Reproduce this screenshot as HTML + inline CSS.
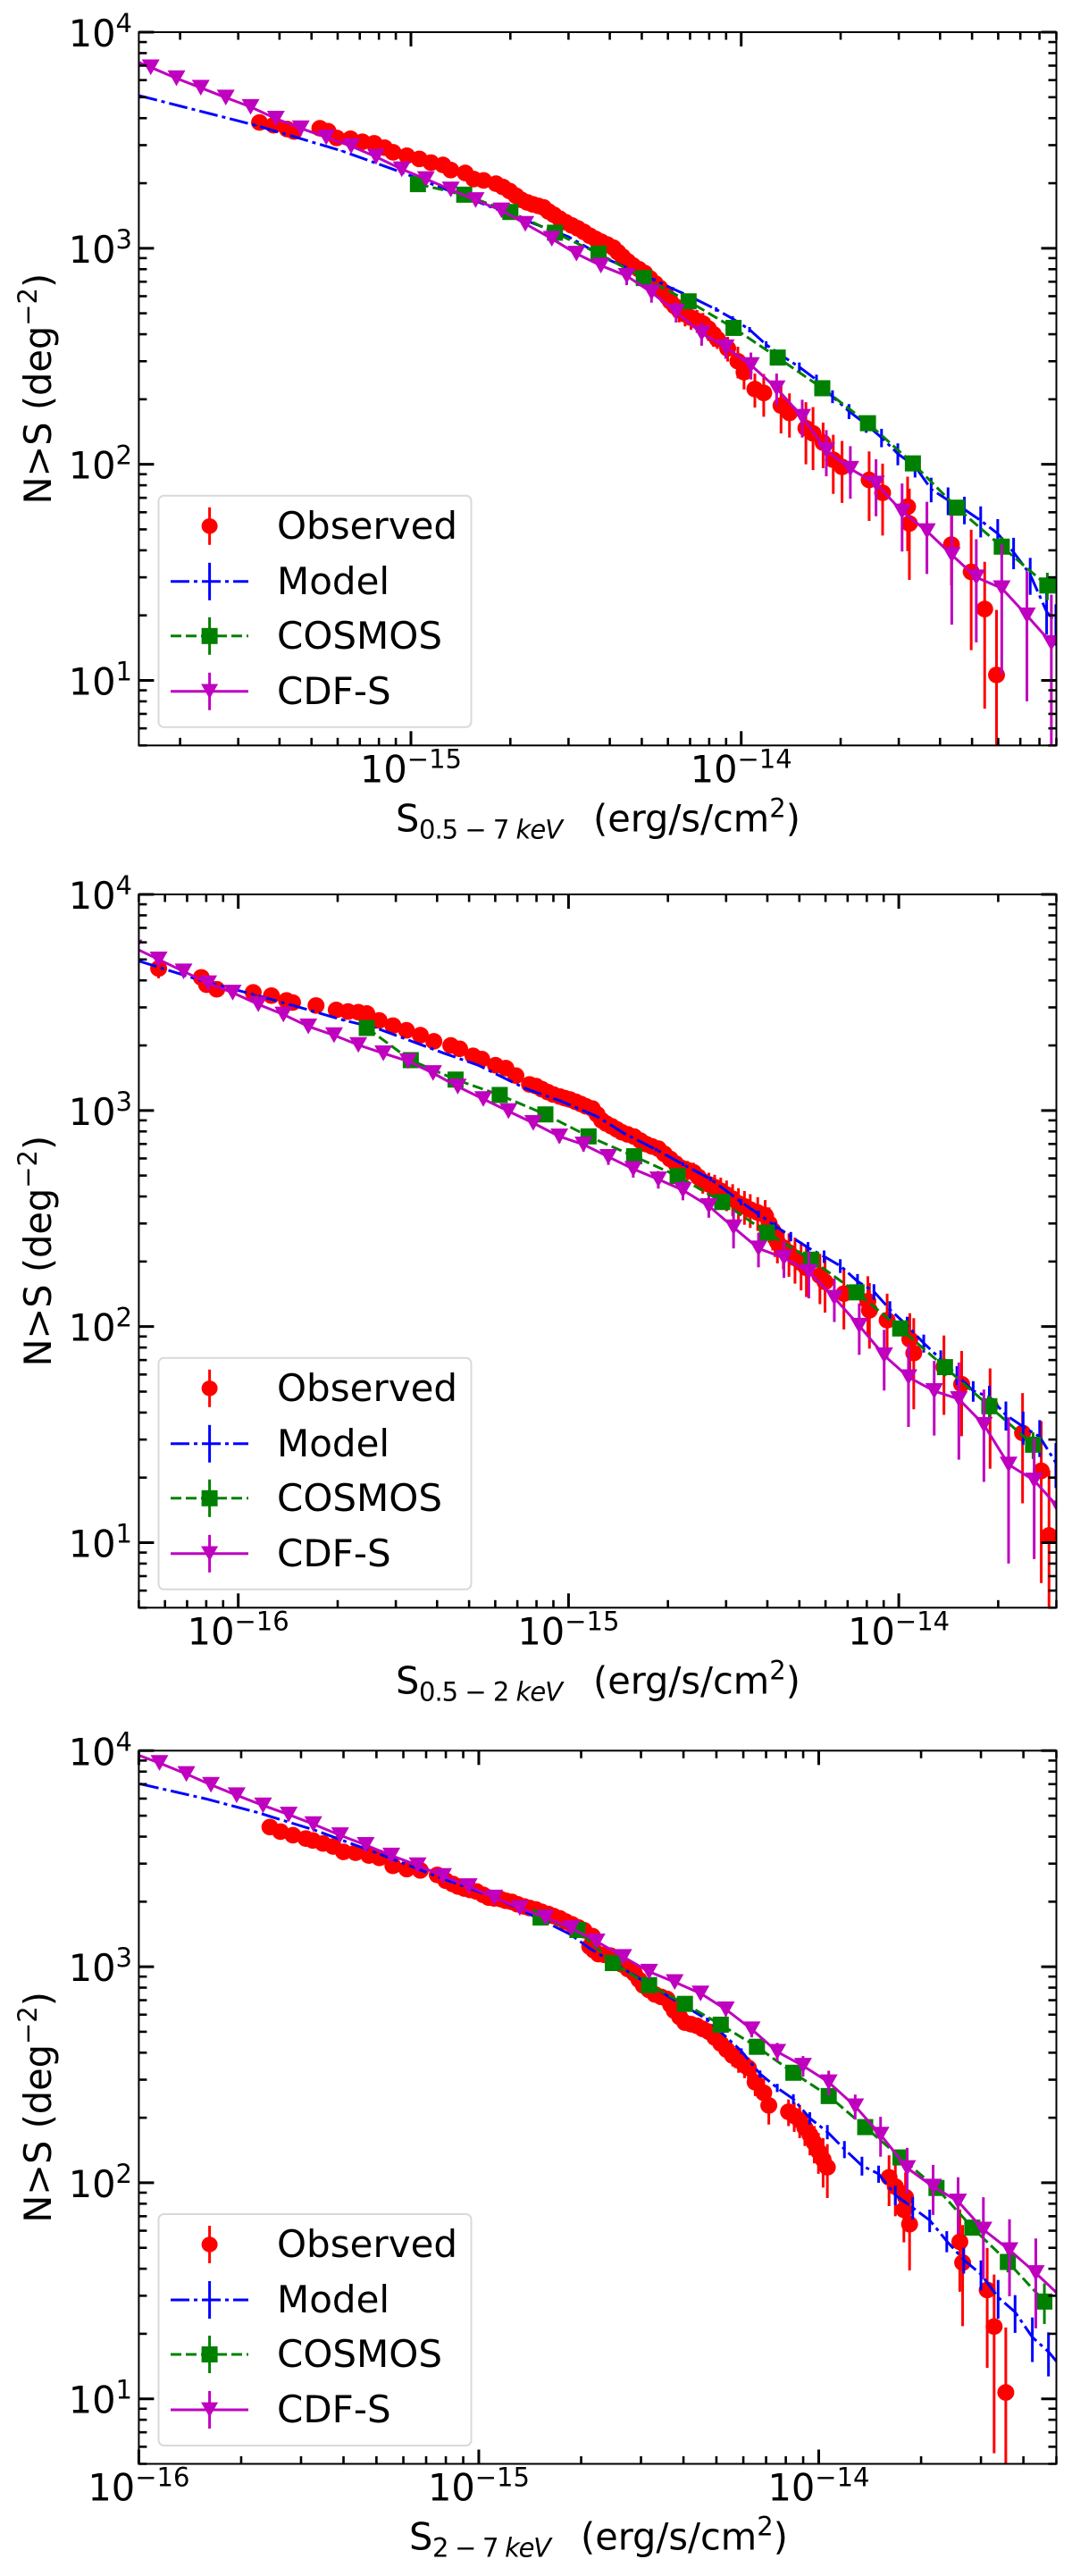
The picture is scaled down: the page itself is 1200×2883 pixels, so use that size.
<!DOCTYPE html>
<html lang="en">
<head>
<meta charset="utf-8">
<title>Cumulative source counts</title>
<style>
html,body{margin:0;padding:0;background:#fff;}
svg{display:block;font-family:"DejaVu Sans","Liberation Sans",sans-serif;}
</style>
</head>
<body>
<svg id="chart" xmlns="http://www.w3.org/2000/svg" width="1200" height="2883" viewBox="0 0 1200 2883"></svg>
<script>
// All flux values are in units of 1e-15 erg/s/cm^2; N is in deg^-2.
const yTickExponents = [1, 2, 3, 4];
const minorMultipliers = [2, 3, 4, 5, 6, 7, 8, 9];
const legendLabels = ["Observed", "Model", "COSMOS", "CDF-S"];

// ---------- Panel 1: 0.5-7 keV ----------
const p1XTickExponents = [-15, -14];
const p1ObservedS = [0.348,0.384,0.422,0.443,0.530,0.561,0.596,0.656,0.713,0.774,0.832,0.883,0.972,1.06,1.15,1.25,1.32,1.46,1.55,1.66,1.81,1.90,1.99,2.08,2.16,2.25,2.34,2.43,2.52,2.61,2.71,2.82,2.94,3.07,3.20,3.34,3.48,3.62,3.77,3.93,4.10,4.23,4.37,4.53,4.70,4.90,5.10,5.29,5.49,5.67,5.85,5.97,6.10,6.29,6.49,6.76,7.05,7.35,7.66,7.95,8.24,8.47,9.10,9.77,10.2,11.0,11.7,13.2,14.0,15.7,16.5,17.7,19.0,20.2,24.4,26.8,31.9,32.3,43.3,49.7,54.6,59.3];
const p1ObservedN = [3820,3710,3560,3470,3590,3480,3240,3210,3110,3060,2920,2780,2680,2590,2490,2430,2300,2230,2090,2060,1990,1920,1840,1750,1675,1630,1596,1570,1545,1480,1428,1370,1320,1275,1236,1190,1142,1105,1072,1040,1006,960,915,870,832,800,768,725,687,655,625,595,568,540,516,495,477,462,448,425,400,380,344,300,267,223,214,187,173,147,139,126,105,97.3,84.7,73.8,63.7,53.2,42.5,31.8,21.4,10.6];
const p1ObservedErr = [60,60,55,55,55,55,50,50,50,50,48,48,45,45,45,45,42,42,40,40,40,36,36,35,35,34,34,33,33,32,32,31,31,30,30,30,29,29,29,28,28,28,28,27,27,27,50,55,60,62,62,62,62,62,62,60,58,56,54,52,50,38,45,50,45,40,48,48,40,47,45,30,32,31,30,27,24,24,15,18,14,10.6];
const p1ModelS = [0.150,0.340,0.618,0.927,2.24,3.0,4.0,5.45,6.21,7.0,8.40,9.42,10.6,11.9,13.3,15.0,16.9,18.9,21.2,23.9,26.6,29.8,33.6,37.6,42.3,47.4,53.1,59.8,66.8,75.0,84.1,89.7];
const p1ModelN = [5090,3700,2820,2260,1340,1130,880,714,649,598,521,472,420,358,318,282,246,206,176,153,133,112,97.9,76.7,68.2,61.8,54.9,47.8,39.2,30.9,20.8,18.5];
const p1ModelErr = [25,20,18,16,12,11,10,12,12,12,12,13,12,13,14,14,14,14,14,13,13,13,11,10,10,9,9,8,6.5,6,4.5,4];
const p1CosmosS = [1.05,1.45,2.00,2.73,3.70,5.07,6.93,9.48,12.9,17.6,24.2,33.1,45.0,61.5,84.5];
const p1CosmosN = [1980,1770,1472,1180,944,728,568,428,312,225,155,101,63,41.6,27.5];
const p1CosmosErr = [40,35,30,25,22,18,15,12,10,9,7,6,5,4.5,4];
const p1CdfsS = [0.136,0.163,0.195,0.231,0.275,0.327,0.390,0.464,0.554,0.659,0.784,0.938,1.11,1.32,1.57,1.88,2.22,2.67,3.17,3.76,4.50,5.35,6.35,7.59,8.98,10.7,12.8,15.3,18.1,21.4,25.6,30.7,36.5,43.4,51.5,61.5,73.3,86.9];
const p1CdfsN = [7690,6880,6120,5530,4980,4510,3980,3590,3260,2970,2650,2320,2090,1870,1670,1497,1297,1107,944,832,745,625,508,404,348,288,225,166,116,95.3,81.5,60.5,49.1,38.1,30.0,26.7,20.0,14.9];
const p1CdfsErr = [120,110,100,95,90,85,80,75,70,65,60,60,55,55,55,50,50,50,50,45,70,65,55,50,40,41,38,33,28,26,24,21,18,20,15,16,12,10];

// ---------- Panel 2: 0.5-2 keV ----------
const p2XTickExponents = [-16, -15, -14];
const p2ObservedS = [0.0574,0.0773,0.0802,0.0861,0.111,0.126,0.140,0.146,0.172,0.198,0.215,0.231,0.245,0.267,0.294,0.323,0.356,0.391,0.440,0.468,0.514,0.546,0.601,0.646,0.693,0.762,0.797,0.83,0.866,0.90,0.942,0.975,1.01,1.05,1.09,1.13,1.18,1.22,1.26,1.30,1.35,1.40,1.45,1.51,1.58,1.65,1.72,1.79,1.87,1.95,2.03,2.11,2.20,2.29,2.39,2.47,2.55,2.66,2.77,2.89,3.01,3.14,3.27,3.41,3.55,3.74,3.94,4.05,4.15,4.22,4.29,4.47,4.65,4.85,5.06,5.25,5.77,5.98,6.82,8.06,8.15,9.22,10.8,11.1,13.7,15.5,18.9,23.7,27.0,28.5];
const p2ObservedN = [4540,4130,3820,3640,3520,3400,3230,3160,3060,2920,2870,2850,2810,2610,2470,2350,2230,2090,2000,1930,1790,1730,1620,1570,1450,1320,1297,1255,1216,1185,1159,1140,1124,1098,1072,1045,1021,960,900,870,845,818,793,775,757,725,698,682,666,630,597,568,542,530,518,493,470,455,442,425,408,390,371,360,348,337,327,300,279,262,246,232,220,208,197,187,172,161,142,131,119,107,87.3,75.4,65,54.1,43,32.2,21.5,10.8];
const p2ObservedErr = [450,280,250,150,130,110,100,95,90,85,80,75,70,68,64,60,58,55,52,50,48,46,44,42,40,38,36,36,35,35,35,34,34,34,33,33,33,32,32,32,32,34,35,36,37,38,40,42,44,46,48,50,52,54,55,56,58,60,62,64,66,66,66,64,62,60,58,56,54,52,50,48,50,50,50,50,45,45,45,40,40,35,28,34,26,23,21,17,15,10.8];
const p2ModelS = [0.0499,0.0792,0.113,0.147,0.210,0.261,0.420,0.533,0.745,0.942,1.22,1.48,1.84,2.22,2.69,3.33,3.76,4.23,4.71,5.31,5.94,6.65,7.50,8.41,9.40,10.6,11.9,13.4,15.0,16.8,18.8,21.1,23.8,26.7,29.9];
const p2ModelN = [4920,3950,3420,3060,2610,2410,1840,1620,1260,1110,938,780,660,564,482,377,332,292,261,232,211,191,162,145,120,101,83.8,70.6,59.6,50.4,47.2,39.0,34.4,30.9,23.4];
const p2ModelErr = [25,22,20,18,16,15,13,12,11,11,11,11,11,11,11,12,12,12,13,14,14,14,13,12,11,10,8,7,6,5.5,6,6,6,6,5.5];
const p2CosmosS = [0.245,0.333,0.455,0.619,0.851,1.15,1.58,2.14,2.92,3.99,5.43,7.45,10.1,13.8,18.8,25.5];
const p2CosmosN = [2410,1710,1390,1180,959,759,614,497,377,272,204,144,98,64.9,42.8,28.4];
const p2CosmosErr = [55,45,40,35,30,28,24,20,17,14,11,9,7,6,5,4];
const p2CdfsS = [0.0482,0.0574,0.0683,0.0811,0.0962,0.115,0.137,0.163,0.195,0.231,0.275,0.327,0.389,0.462,0.552,0.658,0.782,0.938,1.11,1.32,1.57,1.87,2.22,2.66,3.16,3.76,4.49,5.34,6.38,7.59,9.03,10.7,12.8,15.2,18.1,21.5,25.7,30.6];
const p2CdfsN = [5680,5000,4400,3880,3510,3100,2780,2450,2230,2010,1840,1690,1490,1290,1130,993,875,759,696,610,536,480,428,361,288,230,208,179,136,101,73.6,58.3,50.3,46.2,35.1,23.0,19.4,14.4];
const p2CdfsErr = [150,130,120,110,105,95,90,85,80,75,72,68,65,60,58,55,52,52,50,50,47,45,44,42,58,42,40,44,31,27,23,24,19,22,16,15,11,9];

// ---------- Panel 3: 2-7 keV ----------
const p3XTickExponents = [-16, -15, -14];
const p3ObservedS = [0.243,0.261,0.284,0.310,0.325,0.348,0.373,0.400,0.434,0.475,0.510,0.559,0.614,0.673,0.755,0.80,0.838,0.87,0.908,0.945,0.984,1.03,1.07,1.11,1.16,1.20,1.25,1.30,1.36,1.41,1.47,1.53,1.60,1.66,1.73,1.80,1.88,1.96,2.04,2.16,2.12,2.18,2.25,2.34,2.44,2.54,2.64,2.75,2.87,2.96,3.05,3.17,3.30,3.44,3.58,3.67,3.76,3.90,4.04,4.21,4.38,4.56,4.75,4.95,5.15,5.36,5.58,5.81,6.05,6.21,6.50,6.89,7.13,8.15,8.47,8.79,9.1,9.42,9.7,9.98,10.3,10.6,16.1,16.8,18.0,17.8,18.5,26.0,26.5,31.3,32.8,35.5];
const p3ObservedN = [4430,4220,4060,3920,3840,3720,3600,3400,3370,3270,3190,2930,2830,2790,2660,2500,2415,2350,2300,2265,2230,2150,2088,2070,2056,2020,1995,1945,1900,1870,1841,1795,1754,1715,1675,1620,1570,1520,1475,1385,1240,1190,1143,1135,1125,1070,1023,975,929,870,818,780,744,725,709,665,625,585,551,542,533,515,500,470,441,413,388,368,350,340,292,261,228,213,204,195,180,167,153,140,128,118,106,96,85.8,75,64.3,53.3,42.7,31.9,21.6,10.7];
const p3ObservedErr = [100,95,90,85,80,75,72,70,68,65,62,60,58,55,52,50,50,50,48,48,46,46,45,45,45,43,43,42,42,42,40,40,40,38,38,38,36,36,36,35,35,35,35,34,34,34,33,33,33,33,32,32,32,35,35,35,35,36,36,36,36,38,38,40,40,42,42,45,45,40,40,42,42,30,32,34,32,33,30,30,33,33,28,26,26,22,25,22,21,18,16,10.7];
const p3ModelS = [0.101,0.157,0.222,0.329,0.499,0.791,1.12,1.47,1.86,2.13,2.82,3.72,4.70,5.92,6.72,7.55,8.42,9.41,10.6,11.9,13.4,15.0,16.8,18.9,21.2,23.8,26.7,30.0,33.7,37.8,42.5,47.4,50.2];
const p3ModelN = [7020,5990,5190,4290,3370,2540,2090,1700,1410,1210,927,709,569,407,319,275,244,199,172,143,120,110,87.7,76.7,67.1,53.7,44,37.7,29.5,25.2,19.3,16.5,14.8];
const p3ModelErr = [30,25,22,20,18,15,13,12,12,11,11,11,12,12,12,12,13,13,13,13,12,10,9,9,8,6,6,6,6,5,4.5,3.8,3.5];
const p3CosmosS = [1.52,1.95,2.48,3.17,4.04,5.15,6.58,8.42,10.7,13.7,17.4,22.2,28.3,36.0,46.1];
const p3CosmosN = [1690,1480,1040,822,673,539,426,323,252,181,131,94.6,62,43,28.2];
const p3CosmosErr = [35,30,25,20,18,15,12,10,9,8,7,6,5,4.5,6];
const p3CdfsS = [0.0968,0.115,0.138,0.163,0.194,0.232,0.276,0.326,0.391,0.465,0.553,0.661,0.785,0.934,1.11,1.32,1.57,1.87,2.22,2.66,3.17,3.77,4.49,5.33,6.35,7.55,8.99,10.7,12.8,15.2,18.2,21.7,25.7,30.5,36.4,43.5,51.8];
const p3CdfsN = [9700,8770,7800,6950,6220,5580,5060,4570,4060,3660,3270,2950,2630,2360,2090,1870,1690,1510,1310,1110,948,849,752,635,513,404,348,292,226,167,117,96,82,60.7,48.8,38.2,29.5];
const p3CdfsErr = [200,180,170,150,140,130,120,110,100,95,90,85,80,75,70,65,62,60,55,52,50,48,46,45,42,40,38,38,30,35,28,25,24,25,19,17,12];

const SVG_NS = "http://www.w3.org/2000/svg";
const root = document.getElementById("chart");
const COLORS = { observed: "#ff0000", model: "#0000ff", cosmos: "#008000", cdfs: "#bf00bf" };
const BLUE_DASH = "21 5 4 5";
const GREEN_DASH = "12 5";
const FONT = 41.5;
const SUP = 29;

function mk(tag, attrs, parent) {
  const el = document.createElementNS(SVG_NS, tag);
  for (const k in attrs) el.setAttribute(k, attrs[k]);
  parent.appendChild(el);
  return el;
}

function decadeLabel(parent, x, y, exponent, anchor) {
  const t = mk("text", { x: x, y: y, "font-size": FONT, "text-anchor": anchor, fill: "#000" }, parent);
  t.appendChild(document.createTextNode("10"));
  const s = mk("tspan", { dy: -16, "font-size": SUP }, t);
  s.textContent = String(exponent).replace("-", "\u2212");
  return t;
}

function drawErrorBars(parent, xs, ys, errs, color, sx, sy, width) {
  xs.forEach(function (v, i) {
    const lo = Math.max(ys[i] - errs[i], 0.5);
    const hi = ys[i] + errs[i];
    const bar = mk("line", { x1: sx(v), x2: sx(v), y1: sy(lo), y2: sy(hi), stroke: color, "stroke-width": width }, parent);
    
    
  });
}

function polyPoints(xs, ys, sx, sy) {
  return xs.map(function (v, i) { return sx(v).toFixed(1) + "," + sy(ys[i]).toFixed(1); }).join(" ");
}

function triangleAt(cx, cy, size) {
  const w = size / 2, h = size * 0.44;
  return (cx - w) + "," + (cy - h) + " " + (cx + w) + "," + (cy - h) + " " + cx + "," + (cy + h);
}

function drawPanel(cfg) {
  const box = cfg.box;
  const panel = mk("g", {}, root);
  
  

  const logXMin = Math.log10(cfg.sMin), logXMax = Math.log10(cfg.sMax);
  const logYMin = Math.log10(5), logYMax = 4;
  const sx = function (s) { return box.left + (Math.log10(s) - logXMin) / (logXMax - logXMin) * (box.right - box.left); };
  const sy = function (n) { return box.bottom - (Math.log10(n) - logYMin) / (logYMax - logYMin) * (box.bottom - box.top); };

  const clip = mk("clipPath", { id: cfg.clipId }, panel);
  mk("rect", { x: box.left, y: box.top, width: box.right - box.left, height: box.bottom - box.top }, clip);

  const plot = mk("g", { "clip-path": "url(#" + cfg.clipId + ")" }, panel);
  
  

  // Observed
  const obs = mk("g", {}, plot);
  
  
  drawErrorBars(obs, cfg.obsS, cfg.obsN, cfg.obsE, COLORS.observed, sx, sy, 3);
  cfg.obsS.forEach(function (v, i) {
    const c = mk("ellipse", { cx: sx(v), cy: sy(cfg.obsN[i]), rx: 9.5, ry: 9.3, fill: COLORS.observed }, obs);
    
    
  });

  // Model
  const mod = mk("g", {}, plot);
  
  
  const modLine = mk("polyline", { points: polyPoints(cfg.modS, cfg.modN, sx, sy), fill: "none", stroke: COLORS.model, "stroke-width": 3, "stroke-dasharray": BLUE_DASH }, mod);
  
  
  drawErrorBars(mod, cfg.modS, cfg.modN, cfg.modE, COLORS.model, sx, sy, 3);

  // COSMOS
  const cos = mk("g", {}, plot);
  
  
  const cosLine = mk("polyline", { points: polyPoints(cfg.cosS, cfg.cosN, sx, sy), fill: "none", stroke: COLORS.cosmos, "stroke-width": 3, "stroke-dasharray": GREEN_DASH }, cos);
  
  
  drawErrorBars(cos, cfg.cosS, cfg.cosN, cfg.cosE, COLORS.cosmos, sx, sy, 3);
  cfg.cosS.forEach(function (v, i) {
    const sq = mk("rect", { x: sx(v) - 9, y: sy(cfg.cosN[i]) - 9, width: 18, height: 18, fill: COLORS.cosmos }, cos);
    
    
  });

  // CDF-S
  const cdf = mk("g", {}, plot);
  
  
  const cdfLine = mk("polyline", { points: polyPoints(cfg.cdfS, cfg.cdfN, sx, sy), fill: "none", stroke: COLORS.cdfs, "stroke-width": 3 }, cdf);
  
  
  drawErrorBars(cdf, cfg.cdfS, cfg.cdfN, cfg.cdfE, COLORS.cdfs, sx, sy, 3);
  cfg.cdfS.forEach(function (v, i) {
    const tr = mk("polygon", { points: triangleAt(sx(v), sy(cfg.cdfN[i]), 20), fill: COLORS.cdfs }, cdf);
    
    
  });

  // Ticks
  const ticks = mk("g", { stroke: "#000" }, panel);
  
  
  function xTick(s, len, w) {
    const x = sx(s);
    const a = mk("line", { x1: x, x2: x, y1: box.bottom, y2: box.bottom - len, "stroke-width": w }, ticks);
    
    
    const b = mk("line", { x1: x, x2: x, y1: box.top, y2: box.top + len, "stroke-width": w }, ticks);
    
    
  }
  function yTick(n, len, w) {
    const y = sy(n);
    const a = mk("line", { x1: box.left, x2: box.left + len, y1: y, y2: y, "stroke-width": w }, ticks);
    
    
    const b = mk("line", { x1: box.right, x2: box.right - len, y1: y, y2: y, "stroke-width": w }, ticks);
    
    
  }
  for (let e = Math.floor(logXMin); e <= Math.ceil(logXMax); e++) {
    minorMultipliers.forEach(function (m) {
      const s = m * Math.pow(10, e);
      if (s >= cfg.sMin * 0.999 && s <= cfg.sMax * 1.001) xTick(s, 8.5, 2.6);
    });
  }
  for (let e = 0; e <= 3; e++) {
    minorMultipliers.forEach(function (m) {
      const n = m * Math.pow(10, e);
      if (n >= 4.99) yTick(n, 9, 2.6);
    });
  }
  cfg.xTicks.forEach(function (e) { xTick(Math.pow(10, e + 15), 16, 3); });
  yTickExponents.forEach(function (e) { yTick(Math.pow(10, e), 17, 3); });

  // Tick labels
  cfg.xTicks.forEach(function (e) {
    const t = decadeLabel(panel, sx(Math.pow(10, e + 15)), box.bottom + 41, e, "middle");
    
    
  });
  yTickExponents.forEach(function (e) {
    const t = decadeLabel(panel, 148, sy(Math.pow(10, e)) + 16, e, "end");
    
    
  });

  // Spines
  const frame = mk("rect", { x: box.left, y: box.top, width: box.right - box.left, height: box.bottom - box.top, fill: "none", stroke: "#000", "stroke-width": 2 }, panel);
  
  

  // Axis titles
  const cy = (box.top + box.bottom) / 2;
  const yTitle = mk("text", { transform: "translate(57," + cy + ") rotate(-90)", "text-anchor": "middle", "font-size": FONT, fill: "#000" }, panel);
  
  
  yTitle.appendChild(document.createTextNode("N>S (deg"));
  const yS = mk("tspan", { dy: -16, "font-size": SUP }, yTitle);
  yS.textContent = "\u22122";
  const yE = mk("tspan", { dy: 16 }, yTitle);
  yE.textContent = ")";

  const xTitle = mk("g", { fill: "#000" }, panel);
  
  
  const base = box.bottom + 96;
  const sT = mk("text", { x: cfg.labelX, y: base, "font-size": FONT }, xTitle);
  sT.textContent = "S";
  const subT = mk("text", { x: cfg.labelX + 26, y: base + 8, "font-size": SUP, textLength: cfg.subWidth, lengthAdjust: "spacing" }, xTitle);
  subT.appendChild(document.createTextNode(cfg.band + " "));
  const kev = mk("tspan", { "font-style": "italic" }, subT);
  kev.textContent = "keV";
  const unit = mk("text", { x: cfg.unitX, y: base, "font-size": FONT }, xTitle);
  unit.appendChild(document.createTextNode("(erg/s/cm"));
  const u2 = mk("tspan", { dy: -16, "font-size": SUP }, unit);
  u2.textContent = "2";
  const u3 = mk("tspan", { dy: 16 }, unit);
  u3.textContent = ")";

  // Legend
  const lg = mk("g", {}, panel);
  
  
  const lgTop = box.bottom - 279.5;
  const lgBox = mk("rect", { x: 177.5, y: lgTop, width: 350, height: 259, rx: 6, ry: 6, fill: "#fff", "fill-opacity": 0.85, stroke: "#d9d9d9", "stroke-width": 2 }, lg);
  
  
  const rowY = [34, 96, 157, 219].map(function (d) { return lgTop + d; });
  const hx1 = 191, hx2 = 278, hc = 234.6;

  legendLabels.forEach(function (label, i) {
    const y = rowY[i];
    const keys = ["observed", "model", "cosmos", "cdfs"];
    const color = COLORS[keys[i]];
    const entry = mk("g", {}, lg);
    
    
    if (i > 0) {
      const attrs = { x1: hx1, x2: hx2, y1: y, y2: y, stroke: color, "stroke-width": 3 };
      if (i === 1) attrs["stroke-dasharray"] = BLUE_DASH;
      if (i === 2) attrs["stroke-dasharray"] = GREEN_DASH;
      const ln = mk("line", attrs, entry);
      
      
    }
    const eb = mk("line", { x1: hc, x2: hc, y1: y - 21, y2: y + 21, stroke: color, "stroke-width": 3 }, entry);
    
    
    if (i === 0) {
      const m = mk("ellipse", { cx: hc, cy: y, rx: 9, ry: 8.7, fill: color }, entry);
      
      
    }
    if (i === 2) {
      const m = mk("rect", { x: hc - 9, y: y - 9, width: 18, height: 18, fill: color }, entry);
      
      
    }
    if (i === 3) {
      const m = mk("polygon", { points: triangleAt(hc, y, 19), fill: color }, entry);
      
      
    }
    const tx = mk("text", { x: 310, y: y + 14, "font-size": FONT + 0.5, fill: "#000" }, entry);
    
    
    tx.textContent = label;
  });
}

drawPanel({
  panelName: "panel-0.5-7-kev", clipId: "clip-p1",
  box: { left: 155.4, right: 1182.5, top: 36, bottom: 834.3 },
  sMin: 0.15, sMax: 90, xTicks: p1XTickExponents,
  obsS: p1ObservedS, obsN: p1ObservedN, obsE: p1ObservedErr,
  modS: p1ModelS, modN: p1ModelN, modE: p1ModelErr,
  cosS: p1CosmosS, cosN: p1CosmosN, cosE: p1CosmosErr,
  cdfS: p1CdfsS, cdfN: p1CdfsN, cdfE: p1CdfsErr,
  band: "0.5 \u2212 7", labelX: 443, subWidth: 161, unitX: 664
});
drawPanel({
  panelName: "panel-0.5-2-kev", clipId: "clip-p2",
  box: { left: 155.4, right: 1182.5, top: 1001, bottom: 1799.3 },
  sMin: 0.05, sMax: 30, xTicks: p2XTickExponents,
  obsS: p2ObservedS, obsN: p2ObservedN, obsE: p2ObservedErr,
  modS: p2ModelS, modN: p2ModelN, modE: p2ModelErr,
  cosS: p2CosmosS, cosN: p2CosmosN, cosE: p2CosmosErr,
  cdfS: p2CdfsS, cdfN: p2CdfsN, cdfE: p2CdfsErr,
  band: "0.5 \u2212 2", labelX: 443, subWidth: 161, unitX: 664
});
drawPanel({
  panelName: "panel-2-7-kev", clipId: "clip-p3",
  box: { left: 155.4, right: 1182.5, top: 1959.3, bottom: 2757.5 },
  sMin: 0.1, sMax: 50, xTicks: p3XTickExponents,
  obsS: p3ObservedS, obsN: p3ObservedN, obsE: p3ObservedErr,
  modS: p3ModelS, modN: p3ModelN, modE: p3ModelErr,
  cosS: p3CosmosS, cosN: p3CosmosN, cosE: p3CosmosErr,
  cdfS: p3CdfsS, cdfN: p3CdfsN, cdfE: p3CdfsErr,
  band: "2 \u2212 7", labelX: 458, subWidth: 133, unitX: 650
});
</script>
</body>
</html>
